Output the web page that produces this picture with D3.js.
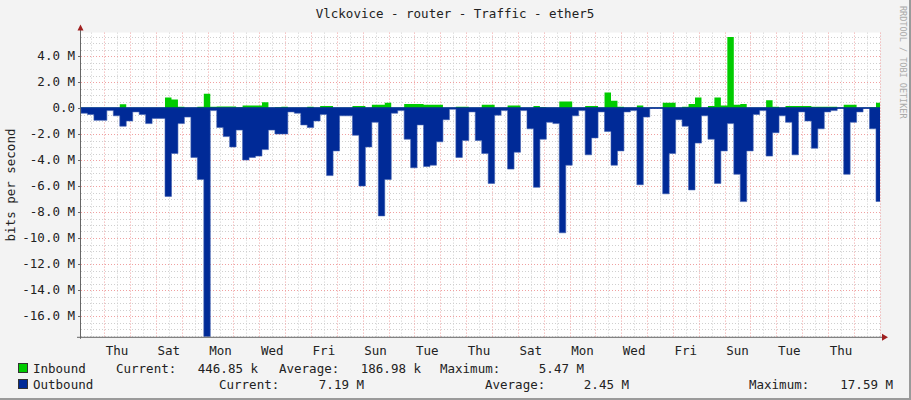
<!DOCTYPE html>
<html><head><meta charset="utf-8">
<script src="https://cdn.jsdelivr.net/npm/d3@7"></script>
<style>
body{margin:0;background:#f3f3f3}
text{font-family:"DejaVu Sans Mono",monospace}
</style></head>
<body><svg width="911" height="400"></svg>
<script>
// 6-hour samples, in Mbit/s, starting at the left edge of the plot
const inbound = [
  0.02,0.02,0.02,0.02,0.02,0.02,0.28,0.02,0.02,0.02,0.02,0.02,0.02,0.8,0.65,0.1,
  0.02,0.02,0.1,1.1,0.1,0.12,0.12,0.12,0.05,0.2,0.2,0.2,0.45,0.02,0.05,
  0.1,0.02,0.02,0.02,0.1,0.02,0.15,0.15,0.02,0.02,0.02,0.15,0.15,0.02,0.25,0.25,0.4,
  0.02,0.02,0.3,0.3,0.3,0.25,0.25,0.25,0.02,0.02,0.1,0.1,0.02,0.02,
  0.25,0.25,0.02,0.02,0.2,0.2,0.02,0.02,0.15,0.05,0.02,0.02,0.5,0.5,0.02,0.02,
  0.15,0.15,0.02,1.2,0.55,0.1,0.02,0.02,0.2,0.02,0.02,0.02,0.4,0.4,0.02,
  0.1,0.3,0.8,0.02,0.15,0.8,0.2,5.47,0.25,0.3,0.02,0.02,0.02,0.6,0.1,0.02,
  0.15,0.15,0.15,0.15,0.1,0.1,0.1,0.1,0.02,0.25,0.25,0.02,0.02,0.05,0.4
];
const outbound = [
  0.4,0.5,0.95,0.95,0.2,0.6,1.4,1.0,0.3,0.5,1.2,0.8,0.8,6.8,3.5,1.2,
  0.7,3.8,5.5,17.59,0.2,1.5,2.2,3.0,1.7,4.0,3.8,3.7,3.2,1.7,2.0,
  2.0,0.3,0.4,1.3,1.5,1.0,0.5,5.2,3.3,0.6,0.6,2.1,6.0,3.0,1.1,8.3,5.5,
  0.4,0.2,2.4,4.6,1.3,4.5,4.4,2.6,0.9,0.1,3.8,2.5,0.3,2.5,
  3.5,5.8,0.55,0.2,4.7,3.4,0.2,1.6,6.1,2.4,1.1,1.2,9.6,4.4,0.6,0.2,
  3.6,2.3,0.3,1.8,4.4,3.3,0.3,0.2,5.9,0.7,0,0,6.6,3.5,0.9,
  1.4,6.3,2.7,0.6,2.4,5.8,3.3,1.2,5.1,7.2,3.3,0.5,0.2,3.7,1.9,0.6,
  1.1,3.6,0.3,1.0,3.1,1.6,0.3,0.2,0,5.1,1.1,0.3,0,1.6,7.19
];
const dayNames = ["Thu","Fri","Sat","Sun","Mon","Tue","Wed"];
const yTicks = d3.range(-16, 5, 2);

const svg = d3.select("svg");
const pLeft = 81, pRight = 880, pTop = 32.6, pBottom = 336.8;

// time axis in days, 0 = Thursday midnight
const t0 = -0.895, step = 0.25;
const x = d3.scaleLinear().domain([t0, 30.01]).range([pLeft, pRight]);
const y = d3.scaleLinear().domain([-17.6, 5.8]).range([pBottom, pTop]);

svg.append("rect").attr("width", 911).attr("height", 400).attr("fill", "#f3f3f3");
svg.append("rect").attr("x", 909).attr("width", 2).attr("height", 400).attr("fill", "#9a9a9a");
svg.append("rect").attr("y", 398).attr("width", 911).attr("height", 2).attr("fill", "#9a9a9a");
svg.append("rect").attr("x", pLeft).attr("y", pTop).attr("width", pRight - pLeft).attr("height", pBottom - pTop).attr("fill", "#fff");

const grid = svg.append("g").attr("stroke-dasharray", "1,2").attr("stroke-width", 1);
// minor horizontal
d3.range(-17.5, 5.8, 0.5).filter(v => Math.abs(v % 2) > 0.01).forEach(v => {
  grid.append("line").attr("x1", pLeft).attr("x2", pRight).attr("y1", Math.round(y(v)) + 0.5).attr("y2", Math.round(y(v)) + 0.5).attr("stroke", "#cfcfcf");
});
// minor vertical (half days)
d3.range(-0.5, 30.1, 1).forEach(d => {
  grid.append("line").attr("y1", pTop).attr("y2", pBottom).attr("x1", Math.round(x(d)) + 0.5).attr("x2", Math.round(x(d)) + 0.5).attr("stroke", "#cfcfcf");
});
// major
yTicks.forEach(v => {
  grid.append("line").attr("x1", pLeft).attr("x2", pRight).attr("y1", Math.round(y(v)) + 0.5).attr("y2", Math.round(y(v)) + 0.5).attr("stroke", "#f0a0a0");
});
d3.range(0, 31, 1).forEach(d => {
  grid.append("line").attr("y1", pTop).attr("y2", pBottom).attr("x1", Math.round(x(d)) + 0.5).attr("x2", Math.round(x(d)) + 0.5).attr("stroke", "#f0a0a0");
});

const sx = (d, i) => x(t0 + i * step);
svg.append("clipPath").attr("id", "c").append("rect")
  .attr("x", pLeft).attr("y", pTop).attr("width", pRight - pLeft).attr("height", pBottom - pTop);

const area = d3.area().curve(d3.curveStepAfter).x(sx).y0(y(0));
const inPts = inbound.concat([inbound[inbound.length - 1]]);
const outPts = outbound.concat([outbound[outbound.length - 1]]);
svg.append("path").datum(outPts).attr("clip-path", "url(#c)")
  .attr("fill", "#002a97").attr("stroke", "#4060b0").attr("stroke-width", 0.6)
  .attr("d", area.y1(d => y(-d)));
svg.append("path").datum(inPts).attr("clip-path", "url(#c)")
  .attr("fill", "#00cc00")
  .attr("d", area.y1(d => y(d)));
svg.append("line").attr("x1", pLeft).attr("x2", pRight).attr("y1", y(0)).attr("y2", y(0))
  .attr("stroke", "#002a97").attr("stroke-width", 1.5);

// axes
svg.append("line").attr("x1", pLeft - 0.5).attr("x2", pLeft - 0.5).attr("y1", pTop - 4).attr("y2", pBottom + 2).attr("stroke", "#666");
svg.append("line").attr("x1", pLeft - 4).attr("x2", pRight + 4).attr("y1", pBottom + 0.5).attr("y2", pBottom + 0.5).attr("stroke", "#666");
svg.append("path").attr("d", `M${pLeft - 3.5},${pTop - 2}L${pLeft + 2.5},${pTop - 2}L${pLeft - 0.5},${pTop - 8}Z`).attr("fill", "#a02020");
svg.append("path").attr("d", `M${pRight + 2},${pBottom - 3}L${pRight + 2},${pBottom + 4}L${pRight + 8},${pBottom + 0.5}Z`).attr("fill", "#a02020");

yTicks.forEach(v => {
  svg.append("line").attr("x1", pLeft - 3).attr("x2", pLeft).attr("y1", Math.round(y(v)) + 0.5).attr("y2", Math.round(y(v)) + 0.5).attr("stroke", "#666");
  svg.append("text").attr("x", pLeft - 6).attr("y", y(v) + 4).attr("text-anchor", "end")
    .attr("font-size", 12.5).attr("fill", "#222").text(v === 0 ? "0.0" : d3.format(".1f")(v).replace("−", "-") + " M");
});
d3.range(0, 29, 2).forEach(d => {
  svg.append("text").attr("x", x(d + 0.5)).attr("y", pBottom + 18).attr("text-anchor", "middle")
    .attr("font-size", 12.5).attr("fill", "#222").text(dayNames[d % 7]);
});

svg.append("text").attr("x", 455).attr("y", 18).attr("text-anchor", "middle").attr("font-size", 12.5).attr("fill", "#222")
  .text("Vlckovice - router - Traffic - ether5");
svg.append("text").attr("transform", "translate(15,185) rotate(-90)").attr("text-anchor", "middle")
  .attr("font-size", 12.5).attr("fill", "#222").text("bits per second");
svg.append("text").attr("transform", "translate(900,6) rotate(90)").attr("font-size", 8.5).attr("fill", "#aaa")
  .text("RRDTOOL / TOBI OETIKER");

// legend
const lg = svg.append("g").attr("font-size", 12.5).attr("fill", "#222");
[["#00cc00", 363.5], ["#002a97", 379.5]].forEach(([c, yy]) => {
  lg.append("rect").attr("x", 18.5).attr("y", yy).attr("width", 9).attr("height", 9).attr("fill", c).attr("stroke", "#333");
});
const row = (yy, items) => items.forEach(([tx, s, anchor]) =>
  lg.append("text").attr("x", tx).attr("y", yy).attr("text-anchor", anchor || "start").text(s));
row(373, [[33, "Inbound"], [116, "Current:"], [258, "446.85 k", "end"], [279, "Average:"], [421, "186.98 k", "end"], [440, "Maximum:"], [584, "5.47 M", "end"]]);
row(389, [[33, "Outbound"], [219, "Current:"], [364, "7.19 M", "end"], [485, "Average:"], [629, "2.45 M", "end"], [749, "Maximum:"], [893, "17.59 M", "end"]]);
</script></body></html>
